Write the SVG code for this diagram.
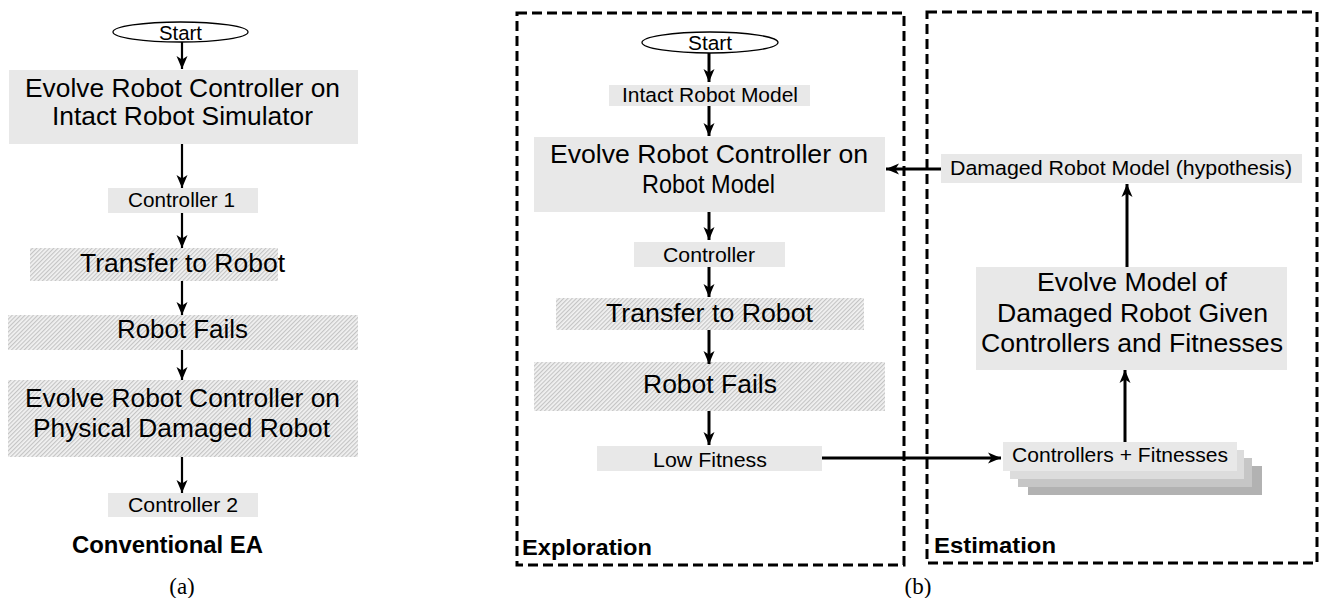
<svg xmlns="http://www.w3.org/2000/svg" width="1321" height="598" viewBox="0 0 1321 598">
<style>
  .t { font-family: "Liberation Sans", Arial, sans-serif; fill: #000; text-anchor: middle; }
  .big { font-size: 25.5px; }
  .sm { font-size: 20.5px; }
  .bold { font-family: "Liberation Sans", Arial, sans-serif; font-weight: bold; fill: #000; }
  .cap { font-family: "Liberation Serif", "Times New Roman", serif; font-size: 23px; fill: #000; text-anchor: middle; }
  .box { fill: #e8e8e8; stroke: none; }
  .hatch { fill: url(#hatch); stroke: none; }
  .oval { fill: #fff; stroke: #000; stroke-width: 1.3; }
  .frame { fill: none; stroke: #000; stroke-width: 3; stroke-dasharray: 10 5; }
  .c1 { fill: none; stroke: #000; stroke-width: 2.2; marker-end: url(#ah); }
  .c2 { fill: none; stroke: #000; stroke-width: 3; marker-end: url(#ah); }
</style>
<defs>
  <pattern id="hatch" width="3" height="3" patternUnits="userSpaceOnUse" patternTransform="rotate(45)">
    <rect width="3" height="3" fill="#f2f2f2"/>
    <line x1="0.6" y1="0" x2="0.6" y2="3" stroke="#c2c2c2" stroke-width="1.1"/>
  </pattern>
  <marker id="ah" markerUnits="userSpaceOnUse" markerWidth="14" markerHeight="12" viewBox="0 0 14 12" refX="13" refY="6" orient="auto">
    <path d="M0,0.5 L13,6 L0,11.5 L3.5,6 z" fill="#000"/>
  </marker>
</defs>

<!-- Panel (a) -->
<g id="a-start">
  <ellipse class="oval" cx="180.5" cy="32" rx="67.5" ry="10"/>
  <text class="t sm" x="180.5" y="39.5" textLength="43" lengthAdjust="spacingAndGlyphs">Start</text>
</g>
<g id="a-evolve-intact">
  <rect class="box" x="9" y="70" width="349" height="74"/>
  <text class="t big" x="182.5" y="97" textLength="315" lengthAdjust="spacingAndGlyphs">Evolve Robot Controller on</text>
  <text class="t big" x="182.5" y="125" textLength="261" lengthAdjust="spacingAndGlyphs">Intact Robot Simulator</text>
</g>
<g id="a-controller1">
  <rect class="box" x="108" y="188" width="150" height="25"/>
  <text class="t sm" x="181.5" y="207" textLength="107" lengthAdjust="spacingAndGlyphs">Controller 1</text>
</g>
<g id="a-transfer">
  <rect class="hatch" x="30" y="248" width="248" height="33"/>
  <text class="t big" x="182.5" y="272" textLength="205" lengthAdjust="spacingAndGlyphs">Transfer to Robot</text>
</g>
<g id="a-fails">
  <rect class="hatch" x="8" y="315" width="350" height="35"/>
  <text class="t big" x="182.5" y="338" textLength="131" lengthAdjust="spacingAndGlyphs">Robot Fails</text>
</g>
<g id="a-evolve-physical">
  <rect class="hatch" x="8" y="380" width="350" height="77"/>
  <text class="t big" x="182.5" y="407" textLength="315" lengthAdjust="spacingAndGlyphs">Evolve Robot Controller on</text>
  <text class="t big" x="181.5" y="437" textLength="297" lengthAdjust="spacingAndGlyphs">Physical Damaged Robot</text>
</g>
<g id="a-controller2">
  <rect class="box" x="108" y="493" width="150" height="24"/>
  <text class="t sm" x="183" y="512" textLength="110" lengthAdjust="spacingAndGlyphs">Controller 2</text>
</g>
<g id="a-labels">
  <text class="bold" x="72" y="553" font-size="24" textLength="191" lengthAdjust="spacingAndGlyphs">Conventional EA</text>
  <text class="cap" x="182" y="594">(a)</text>
</g>

<!-- Panel (b) frames -->
<g id="exploration">
  <rect class="frame" x="517" y="13" width="387" height="552"/>
  <text class="bold" x="522" y="555" font-size="22" textLength="130" lengthAdjust="spacingAndGlyphs">Exploration</text>
</g>
<g id="estimation">
  <rect class="frame" x="927" y="12" width="390" height="551"/>
  <text class="bold" x="934" y="553" font-size="22" textLength="122" lengthAdjust="spacingAndGlyphs">Estimation</text>
</g>

<g id="b-start">
  <ellipse class="oval" cx="710" cy="42.5" rx="68" ry="10.5"/>
  <text class="t sm" x="710" y="50" textLength="44" lengthAdjust="spacingAndGlyphs">Start</text>
</g>
<g id="b-intact">
  <rect class="box" x="609" y="85" width="201" height="21"/>
  <text class="t sm" x="710" y="102" textLength="176" lengthAdjust="spacingAndGlyphs">Intact Robot Model</text>
</g>
<g id="b-evolve">
  <rect class="box" x="534" y="137" width="351" height="75"/>
  <text class="t big" x="709" y="163" textLength="318" lengthAdjust="spacingAndGlyphs">Evolve Robot Controller on</text>
  <text class="t big" x="708.5" y="193" textLength="133" lengthAdjust="spacingAndGlyphs">Robot Model</text>
</g>
<g id="b-controller">
  <rect class="box" x="634" y="242" width="151" height="25"/>
  <text class="t sm" x="709" y="262" textLength="92" lengthAdjust="spacingAndGlyphs">Controller</text>
</g>
<g id="b-transfer">
  <rect class="hatch" x="556" y="298" width="308" height="32"/>
  <text class="t big" x="709.5" y="322" textLength="207" lengthAdjust="spacingAndGlyphs">Transfer to Robot</text>
</g>
<g id="b-fails">
  <rect class="hatch" x="534" y="362" width="351" height="49"/>
  <text class="t big" x="710" y="393" textLength="134" lengthAdjust="spacingAndGlyphs">Robot Fails</text>
</g>
<g id="b-lowfit">
  <rect class="box" x="597" y="446" width="225" height="25"/>
  <text class="t sm" x="710" y="467" textLength="114" lengthAdjust="spacingAndGlyphs">Low Fitness</text>
</g>
<g id="b-damaged">
  <rect class="box" x="941" y="154" width="361" height="29"/>
  <text class="t sm" x="1121" y="175" textLength="342" lengthAdjust="spacingAndGlyphs">Damaged Robot Model (hypothesis)</text>
</g>
<g id="b-evolve-model">
  <rect class="box" x="976" y="267" width="311" height="103"/>
  <text class="t big" x="1132" y="291" textLength="190" lengthAdjust="spacingAndGlyphs">Evolve Model of</text>
  <text class="t big" x="1132.5" y="322" textLength="271" lengthAdjust="spacingAndGlyphs">Damaged Robot Given</text>
  <text class="t big" x="1132" y="352" textLength="302" lengthAdjust="spacingAndGlyphs">Controllers and Fitnesses</text>
</g>
<g id="b-ctrl-fit">
  <rect x="1028" y="466" width="234" height="29" fill="#b2b2b2"/>
  <rect x="1018" y="458" width="234" height="29" fill="#c6c6c6"/>
  <rect x="1010" y="450" width="234" height="29" fill="#dcdcdc"/>
  <rect x="1003" y="442" width="234" height="29" fill="#e8e8e8"/>
  <text class="t" x="1120" y="462" font-size="21" textLength="216" lengthAdjust="spacingAndGlyphs">Controllers + Fitnesses</text>
</g>
<g id="b-caption">
  <text class="cap" x="918" y="594">(b)</text>
</g>

<g id="connectors">
  <!-- (a) -->
  <line class="c1" x1="182" y1="42" x2="182" y2="69"/>
  <line class="c1" x1="182" y1="144" x2="182" y2="188"/>
  <line class="c1" x1="182" y1="213" x2="182" y2="248"/>
  <line class="c1" x1="182" y1="281" x2="182" y2="315"/>
  <line class="c1" x1="182" y1="350" x2="182" y2="380"/>
  <line class="c1" x1="182" y1="457" x2="182" y2="493"/>
  <!-- (b) -->
  <line class="c2" x1="709" y1="53" x2="709" y2="82"/>
  <line class="c2" x1="709" y1="106" x2="709" y2="136"/>
  <line class="c2" x1="709" y1="212" x2="709" y2="240"/>
  <line class="c2" x1="709" y1="267" x2="709" y2="297"/>
  <line class="c2" x1="709" y1="330" x2="709" y2="364"/>
  <line class="c2" x1="709" y1="411" x2="709" y2="445"/>
  <line class="c2" x1="822" y1="458" x2="1001" y2="458"/>
  <line class="c2" x1="1125" y1="442" x2="1125" y2="370"/>
  <line class="c2" x1="1127" y1="267" x2="1127" y2="184"/>
  <line class="c2" x1="941" y1="169" x2="886" y2="169"/>
</g>
</svg>
